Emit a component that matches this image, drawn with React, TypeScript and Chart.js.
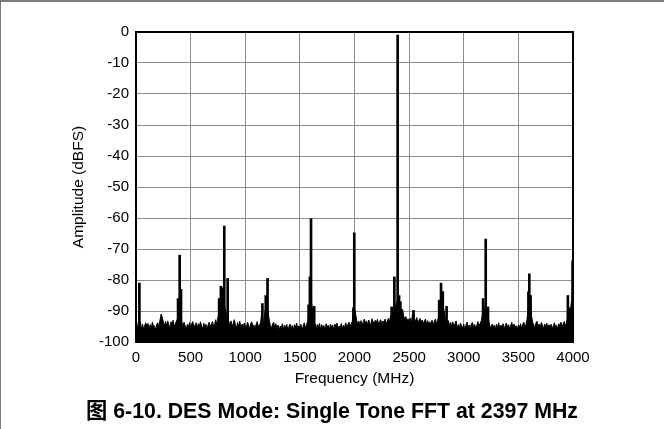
import { useEffect, useRef } from "react";
import { Chart, registerables } from "chart.js";

Chart.register(...registerables);

// Noise floor, one value every 10 MHz from 0 to 4000 MHz (dBFS)
const FLOOR_STEP_MHZ = 10;
const floorDb: number[] = [
  -92, -94.5, -95.5, -94, -93.5, -95.8, -94.2, -96, -94.6, -93.8,
  -95.2, -94, -96.1, -94.4, -95.5, -93.6, -95, -94.8, -96.2, -94.3,
  -93.8, -95.5, -92.8, -91, -92, -93.5, -95, -93.4, -94.6, -93.2,
  -94.4, -95.6, -93.5, -94.2, -93, -95.2, -94, -93.3, -92.5, -90,
  -88, -91, -93.8, -95, -93.6, -94.8, -96, -94.3, -95.2, -93.7,
  -95.4, -94.2, -93.4, -95.6, -94.6, -93.8, -95.8, -94.1, -95, -93.5,
  -94.8, -95.9, -93.9, -95.1, -94.3, -96, -94.5, -93.6, -95.3, -94.2,
  -93.4, -95, -94.1, -92.8, -94.6, -92, -91, -89, -88, -89,
  -87, -88, -90, -91.5, -92, -93.5, -94.8, -93.2, -95, -94,
  -92.8, -94.5, -95.6, -93.7, -94.9, -93.3, -95.4, -94.2, -95.8, -93.9,
  -94.7, -95.5, -93.6, -94.4, -95.9, -94.1, -93.5, -95.2, -94.5, -96,
  -94.2, -93.4, -95.1, -94.6, -93.8, -91, -92.5, -94, -90, -88.5,
  -88, -90.5, -93, -94.8, -95.6, -94.2, -93.6, -95.3, -94.1, -95.8,
  -94.5, -96.2, -94.9, -95.4, -94.1, -96, -94.6, -95.5, -94.3, -96.1,
  -95, -94.2, -95.7, -94.7, -96.3, -94.4, -95.3, -93.9, -95.6, -94.8,
  -95.5, -94.3, -96, -94.9, -93.8, -95.4, -94.6, -93.5, -92, -89,
  -86, -88, -91, -93.2, -94.5, -95.7, -94.3, -95.2, -94, -96,
  -94.4, -95.5, -94.7, -96.2, -94.1, -95, -94.6, -95.9, -94.3, -95.3,
  -94.5, -96, -94.2, -95.1, -93.9, -95.6, -94.8, -95.3, -94, -95.7,
  -94.6, -95.2, -93.8, -95.5, -94.3, -93.6, -95, -94.1, -93.3, -91,
  -89, -91, -93, -94.2, -93.3, -94.6, -93.1, -94.4, -93.6, -92.6,
  -94, -93.2, -94.5, -92.9, -93.8, -94.7, -92.5, -93.5, -94.2, -93,
  -93.7, -92.7, -94.3, -93.4, -92.8, -94.6, -93.2, -93.9, -92.6, -94.1,
  -93.3, -92.4, -93.8, -91.5, -92.2, -93, -90.5, -89, -88, -87,
  -86, -87.5, -88.5, -90, -89.5, -91.5, -92.8, -91.8, -93.4, -92.5,
  -93.6, -92.3, -93.9, -91.2, -90.5, -92.6, -93.5, -92.1, -94, -93,
  -92.4, -93.7, -92.9, -94.2, -93.3, -92.6, -94.4, -93.1, -94.6, -93.5,
  -94.1, -93, -94.8, -93.4, -92.6, -94.2, -93, -92, -89.5, -88.5,
  -87, -88, -90, -92, -93.5, -94.5, -93.1, -95, -93.7, -94.9,
  -93.5, -95.2, -94.1, -93.2, -95.4, -94.4, -95.6, -93.9, -94.8, -95.5,
  -94.2, -96, -94.7, -93.6, -95.3, -94.5, -95.9, -94, -93.7, -95.4,
  -94.3, -95.7, -94.6, -93.4, -95.1, -94, -93.2, -91.5, -89.5, -90,
  -87.5, -89, -91, -93.5, -94.8, -95.6, -94.2, -95.3, -94.5, -95.8,
  -94.3, -95.4, -93.8, -95.7, -94.6, -95, -94.1, -95.9, -94.7, -93.9,
  -95.2, -94.4, -95.8, -94.6, -93.7, -95.5, -94.2, -95.1, -94.8, -96,
  -94.5, -95.3, -94.1, -95.7, -94.3, -93.6, -95, -94.4, -92.5, -89,
  -86, -88, -91.5, -93.6, -94.4, -95.5, -94, -93.3, -95.1, -94.2,
  -95.4, -93.7, -94.6, -95.8, -94.2, -95, -93.9, -95.6, -94.4, -95.2,
  -94.3, -95.7, -94.8, -93.8, -95.3, -94.5, -95.9, -94.1, -94.9, -93.6,
  -95.1, -94.2, -93.4, -94.7, -93.9, -92, -90, -91, -88.5, -86,
  -78,
];

// Spurs and the fundamental tone
const spikeFreqMhz: number[] = [
  31, 385, 400, 412, 761, 777, 790, 808, 839, 1157, 1188, 1204,
  1580, 1592, 1602, 1631, 1990, 1998, 2340, 2365, 2395, 2408, 2420,
  2540, 2775, 2792, 2808, 2843, 3177, 3201, 3222, 3592, 3600, 3612,
  3953, 3975, 3996,
];
const spikeDb: number[] = [
  -81, -86, -72, -83, -86, -82, -82.5, -62.6, -79.5, -87.6, -85, -79.5,
  -88, -79, -60.2, -88.5, -89, -64.8, -88.7, -79, -1, -85, -87,
  -89.8, -86.5, -81, -83.7, -88.5, -86, -66.8, -88.7, -83.8, -78, -85,
  -85, -89, -73.8,
];

const xTickValues = [0, 500, 1000, 1500, 2000, 2500, 3000, 3500, 4000];
const yTickValues = [0, -10, -20, -30, -40, -50, -60, -70, -80, -90, -100];

const CAPTION = "图 6-10. DES Mode: Single Tone FFT at 2397 MHz";
const X_TITLE = "Frequency (MHz)";
const Y_TITLE = "Amplitude (dBFS)";

const FONT = '"Liberation Sans", Arial, "Noto Sans CJK SC", sans-serif';

const framePlugin = {
  id: "frame",
  beforeDraw(chart: any) {
    const ctx = chart.ctx;
    ctx.save();
    ctx.fillStyle = "#ffffff";
    ctx.fillRect(0, 0, chart.width, chart.height);
    ctx.fillStyle = "#7a7a7a";
    ctx.fillRect(0, 0, chart.width, 2);
    ctx.fillRect(0, 0, 1, chart.height);
    ctx.restore();
  },
  afterDatasetsDraw(chart: any) {
    const { left, top, right, bottom } = chart.chartArea;
    const ctx = chart.ctx;
    ctx.save();
    ctx.strokeStyle = "#000";
    ctx.lineWidth = 2;
    ctx.strokeRect(left, top, right - left, bottom - top);
    ctx.restore();
  },
};

export default function App() {
  const ref = useRef<HTMLCanvasElement | null>(null);

  useEffect(() => {
    if (!ref.current) return;
    const floorPoints = floorDb.map((y, i) => ({ x: i * FLOOR_STEP_MHZ, y }));
    const spikePoints = spikeFreqMhz.map((x, i) => ({ x, y: [-100, spikeDb[i]] }));

    const chart = new Chart(ref.current, {
      type: "line",
      data: {
        datasets: [
          {
            type: "line",
            data: floorPoints as any,
            borderColor: "#000",
            backgroundColor: "#000",
            borderWidth: 1,
            pointRadius: 0,
            fill: "start",
            tension: 0,
          },
          {
            type: "bar",
            data: spikePoints as any,
            backgroundColor: "#000",
            borderWidth: 0,
            barThickness: 2,
            grouped: false,
          } as any,
        ],
      },
      options: {
        animation: false,
        responsive: false,
        devicePixelRatio: 1,
        events: [],
        layout: { padding: { left: 62, right: 91, top: 32, bottom: 29 } },
        plugins: {
          legend: { display: false },
          tooltip: { enabled: false },
          title: { display: false },
        },
        scales: {
          x: {
            type: "linear",
            min: 0,
            max: 4000,
            offset: false,
            afterFit: (s: any) => {
              s.height = 58;
            },
            afterBuildTicks: (s: any) => {
              s.ticks = xTickValues.map((v) => ({ value: v }));
            },
            grid: { color: "#8c8c8c", lineWidth: 1, drawTicks: false, offset: false },
            border: { display: false },
            ticks: {
              color: "#000",
              font: { family: FONT, size: 15 },
              padding: 7,
              autoSkip: false,
              maxRotation: 0,
              callback: (v: any) => String(v),
            },
            title: {
              display: true,
              text: X_TITLE,
              color: "#000",
              font: { family: FONT, size: 15.5 },
              padding: { top: 0, bottom: 11.7 },
            },
          },
          y: {
            type: "linear",
            min: -100,
            max: 0,
            afterFit: (s: any) => {
              s.width = 74;
            },
            afterBuildTicks: (s: any) => {
              s.ticks = yTickValues.map((v) => ({ value: v }));
            },
            grid: { color: "#8c8c8c", lineWidth: 1, drawTicks: false },
            border: { display: false },
            ticks: {
              color: "#000",
              font: { family: FONT, size: 15 },
              padding: 7,
              autoSkip: false,
              callback: (v: any) => String(v),
            },
            title: {
              display: true,
              text: Y_TITLE,
              color: "#000",
              font: { family: FONT, size: 15.5 },
              padding: { top: 7.7, bottom: 0 },
            },
          },
        },
      },
      plugins: [framePlugin],
    } as any);

    return () => chart.destroy();
  }, []);

  return (
    <div style={{ position: "absolute", left: 0, top: 0, width: 664, height: 429 }}>
      <canvas ref={ref} width={664} height={429} style={{ display: "block" }} />
      <div
        style={{
          position: "absolute",
          left: 0,
          top: 398,
          width: 664,
          textAlign: "center",
          fontFamily: FONT,
          fontWeight: "bold",
          fontSize: 21.3,
          lineHeight: "26px",
          color: "#000",
          whiteSpace: "nowrap",
        }}
      >
        {CAPTION}
      </div>
    </div>
  );
}
